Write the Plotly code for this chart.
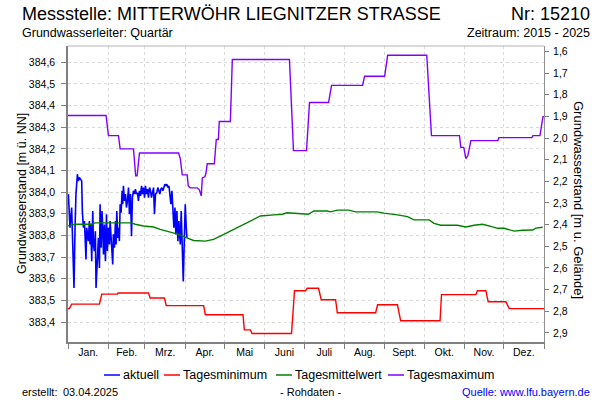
import plotly.graph_objects as go

# ---------------- data ----------------
months = ["Jan.", "Feb.", "Mrz.", "Apr.", "Mai", "Juni", "Juli", "Aug.", "Sept.", "Okt.", "Nov.", "Dez."]
month_start = [0, 31, 59, 90, 120, 151, 181, 212, 243, 273, 304, 334, 365]
month_mid = [15.5, 45, 74.5, 105, 135.5, 166, 196.5, 227.5, 258, 288.5, 319, 349.5]
left_ticks = [383.4, 383.5, 383.6, 383.7, 383.8, 383.9, 384.0, 384.1, 384.2, 384.3, 384.4, 384.5, 384.6]
right_ticks = [1.6, 1.7, 1.8, 1.9, 2.0, 2.1, 2.2, 2.3, 2.4, 2.5, 2.6, 2.7, 2.8, 2.9]
ground_level = 386.25  # m ü. NN

# aktuell (2025, day of year / level m ü. NN)
akt_day = [0.3, 1.5, 2.8, 3.6, 4.6, 5.4, 6.1, 7.2, 7.9, 8.7, 9.7, 10.5, 11.0, 11.8, 12.6, 13.1, 13.8, 14.3,
           15.6, 16.4, 16.9, 17.4, 18.2, 19.0, 19.5, 20.2, 21.0, 21.5, 22.5, 23.3, 24.1, 24.6, 25.4, 26.1,
           26.6, 27.2, 27.9, 28.7, 29.5, 30.2, 31.0, 31.8, 32.3, 33.6, 34.3, 34.8, 35.6, 36.4, 36.9, 37.4,
           38.2, 38.9, 39.4, 40.0, 40.7, 41.5, 42.0, 42.5, 43.3, 44.1, 44.8, 45.6, 46.4, 47.1, 47.9, 48.7,
           49.4, 50.2, 51.0, 51.7, 52.5, 53.3, 54.0, 54.8, 55.6, 56.4, 57.1, 57.9, 58.7, 59.4, 60.2, 61.0,
           61.7, 62.5, 63.3, 64.0, 64.8, 65.6, 66.3, 67.1, 68.1, 68.9, 69.7, 70.4, 71.2, 72.0, 72.7, 73.5,
           74.3, 75.1, 75.8, 76.6, 77.4, 78.1, 78.9, 79.7, 80.4, 81.2, 82.0, 82.7, 83.5, 84.3, 85.0, 86.1,
           86.8, 87.6, 88.4, 89.1, 89.9, 90.7, 91.2]
akt_val = [383.991, 383.836, 383.929, 383.712, 383.557, 383.836, 383.991, 384.083, 384.052, 384.068, 384.060,
           384.052, 383.913, 383.836, 383.867, 383.743, 383.689, 383.836, 383.774, 383.867, 383.758, 383.851,
           383.681, 383.913, 383.758, 383.728, 383.820, 383.557, 383.681, 383.789, 383.650, 383.944, 383.743,
           383.913, 383.836, 383.712, 383.851, 383.681, 383.898, 383.728, 383.836, 383.758, 383.867, 383.712,
           383.666, 383.805, 383.743, 383.867, 383.758, 383.913, 383.789, 383.836, 383.774, 383.944, 383.905,
           384.006, 383.944, 384.029, 383.960, 383.991, 383.929, 383.960, 384.021, 383.898, 383.991, 383.797,
           383.975, 384.006, 383.991, 384.014, 383.991, 383.998, 383.960, 384.006, 383.983, 384.029, 383.991,
           384.021, 383.975, 384.029, 383.991, 384.014, 383.975, 384.021, 384.006, 383.975, 383.998, 384.021,
           383.898, 383.991, 383.998, 384.021, 384.006, 383.991, 384.014, 384.021, 384.006, 384.029, 384.037,
           384.029, 384.037, 384.021, 384.029, 383.991, 383.944, 384.006, 383.913, 383.836, 383.929, 383.805,
           383.913, 383.774, 383.867, 383.758, 383.913, 383.681, 383.588, 383.758, 383.944, 383.836, 383.789]

# Tagesminimum 2015-2025
min_day = [0, 1.0, 2.8, 24.1, 25.9, 37.9, 38.4, 61.7, 63.0, 74.0, 75.3, 104.0, 105.3, 134.2, 135.2, 139.8,
           141.2, 171.4, 173.7, 182.1, 183.4, 192.1, 194.2, 205.2, 206.5, 235.9, 237.4, 252.6, 255.1, 285.3,
           286.4, 312.7, 314.0, 320.4, 322.2, 335.8, 338.3, 365]
min_val = [383.462, 383.462, 383.483, 383.483, 383.529, 383.529, 383.534, 383.534, 383.511, 383.511, 383.476,
           383.476, 383.434, 383.434, 383.364, 383.364, 383.347, 383.347, 383.545, 383.545, 383.556, 383.556,
           383.503, 383.503, 383.443, 383.443, 383.480, 383.480, 383.406, 383.406, 383.527, 383.527, 383.545,
           383.545, 383.494, 383.494, 383.462, 383.462]

# Tagesmittelwert 2015-2025
mean_day = [0, 5.4, 18.2, 20.7, 48.9, 51.5, 57.9, 65.5, 70.7, 78.4, 84.8, 91.2, 96.3, 105.3, 111.6, 116.8,
            121.9, 129.6, 137.3, 142.4, 147.5, 157.8, 164.2, 168.1, 175.7, 184.4, 188.5, 198.8, 201.3, 206.5,
            215.4, 220.5, 237.2, 242.3, 252.6, 260.3, 265.3, 276.9, 280.7, 285.8, 298.7, 305.1, 311.4, 317.9,
            325.6, 329.4, 334.5, 342.2, 348.6, 356.3, 358.8, 364.0]
mean_val = [383.844, 383.852, 383.852, 383.858, 383.858, 383.852, 383.844, 383.839, 383.828, 383.816, 383.805,
            383.789, 383.777, 383.774, 383.782, 383.797, 383.813, 383.836, 383.859, 383.875, 383.890, 383.895,
            383.898, 383.905, 383.901, 383.898, 383.913, 383.913, 383.909, 383.917, 383.917, 383.909, 383.909,
            383.903, 383.895, 383.887, 383.872, 383.872, 383.856, 383.847, 383.847, 383.839, 383.847, 383.852,
            383.840, 383.833, 383.833, 383.820, 383.824, 383.825, 383.834, 383.838]

# Tagesmaximum 2015-2025
max_day = [0, 29.2, 31.0, 38.7, 40.0, 50.2, 51.9, 53.0, 54.8, 84.8, 86.1, 87.6, 91.4, 92.2, 93.7, 99.1, 100.7,
           102.2, 103.0, 104.9, 105.7, 106.8, 112.2, 113.7, 115.3, 116.0, 124.5, 126.0, 169.8, 172.9, 182.9,
           185.2, 199.8, 202.1, 225.9, 227.4, 242.8, 245.1, 275.1, 278.7, 300.2, 301.2, 303.5, 305.1, 306.6,
           308.9, 329.6, 330.4, 355.7, 356.5, 361.9, 364.2, 365]
max_val = [384.354, 384.354, 384.261, 384.261, 384.200, 384.200, 384.076, 384.076, 384.181, 384.181, 384.155,
           384.080, 384.080, 384.029, 384.020, 384.020, 384.011, 383.983, 384.066, 384.071, 384.085, 384.131,
           384.131, 384.243, 384.243, 384.326, 384.326, 384.613, 384.613, 384.192, 384.192, 384.414, 384.414,
           384.493, 384.493, 384.535, 384.535, 384.632, 384.632, 384.261, 384.261, 384.207, 384.207, 384.155,
           384.168, 384.238, 384.238, 384.252, 384.252, 384.261, 384.261, 384.349, 384.349]

series_names = ["aktuell", "Tagesminimum", "Tagesmittelwert", "Tagesmaximum"]
series_colors = ["#0000FF", "#FF0000", "#008000", "#8000FF"]

# ---------------- layout geometry ----------------
W, H = 600, 400
L, R, T, B = 68, 56, 46, 58
PW, PH = W - L - R, H - T - B
FONT = "Liberation Sans, Arial, sans-serif"
GRID = "#d9d9d9"
AX = "#808080"


def fx(px):
    return (px - L) / PW


def fy(py):
    return (H - B - py) / PH


fig = go.Figure()
fig.add_trace(go.Scatter(x=akt_day, y=akt_val, mode="lines", name=series_names[0],
                         line=dict(color=series_colors[0], width=1.6)))
fig.add_trace(go.Scatter(x=min_day, y=min_val, mode="lines", name=series_names[1],
                         line=dict(color=series_colors[1], width=1.4)))
fig.add_trace(go.Scatter(x=mean_day, y=mean_val, mode="lines", name=series_names[2],
                         line=dict(color=series_colors[2], width=1.4)))
fig.add_trace(go.Scatter(x=max_day, y=max_val, mode="lines", name=series_names[3],
                         line=dict(color=series_colors[3], width=1.4)))
# carrier for the right-hand depth axis
fig.add_trace(go.Scatter(x=[None], y=[None], yaxis="y2", mode="lines", showlegend=False, hoverinfo="skip"))

y_top, y_bot = 384.675, 383.308

annotations = []


def ann(text, px, py, xanchor="left", size=11, color="black", angle=0):
    annotations.append(dict(text=text, x=fx(px), y=fy(py), xref="paper", yref="paper",
                            xanchor=xanchor, yanchor="middle", showarrow=False, textangle=angle,
                            font=dict(family=FONT, size=size, color=color)))


ann("Messstelle: MITTERWÖHR LIEGNITZER STRASSE", 20, 14, size=18)
ann("Nr: 15210", 592, 14, xanchor="right", size=18)
ann("Grundwasserleiter: Quartär", 20, 33, size=12.5)
ann("Zeitraum: 2015 - 2025", 592, 33, xanchor="right", size=12.5)
ann("Grundwasserstand [m ü. NN]", 22, 194, xanchor="center", size=12.5, angle=-90)
ann("Grundwasserstand [m u. Gelände]", 579, 200, xanchor="center", size=13, angle=90)
ann("erstellt:", 20, 392, size=11)
ann("03.04.2025", 61, 392, size=11)
ann("- Rohdaten -", 310, 392, xanchor="center", size=11)
ann("Quelle: www.lfu.bayern.de", 592, 392, xanchor="right", size=11, color="#0000FF")

legend_x = [(104, 120), (164, 180), (276, 292), (388, 404)]
shapes = [dict(type="line", xref="paper", yref="paper", x0=0, x1=1, y0=1, y1=1,
               line=dict(color="#b4b4b4", width=1))]
for (a, b), name, col in zip(legend_x, series_names, series_colors):
    shapes.append(dict(type="line", xref="paper", yref="paper", x0=fx(a), x1=fx(b), y0=fy(375), y1=fy(375),
                       line=dict(color=col, width=1.5)))
    ann(name, b + 1, 375, size=12.5)

fig.update_layout(
    width=W, height=H,
    margin=dict(l=L, r=R, t=T, b=B, pad=0),
    paper_bgcolor="white", plot_bgcolor="white",
    separators=",.",
    showlegend=False,
    font=dict(family=FONT, size=11, color="black"),
    xaxis=dict(range=[0, 365], tickmode="array", tickvals=month_mid, ticktext=months, ticks="",
               showgrid=False, zeroline=False, showline=True, linecolor=AX, linewidth=1.5,
               tickfont=dict(size=10.5),
               minor=dict(tickmode="array", tickvals=month_start, ticks="outside", ticklen=5,
                          tickcolor=AX, tickwidth=1, showgrid=True, gridcolor=GRID,
                          griddash="3px,3px", gridwidth=1)),
    yaxis=dict(range=[y_bot, y_top], tickmode="array", tickvals=left_ticks, tickformat=".1f",
               ticks="outside", ticklen=5, tickcolor=AX, showgrid=True, gridcolor=GRID,
               griddash="3px,3px", zeroline=False, showline=True, linecolor=AX, linewidth=1.5,
               tickfont=dict(size=10.5), ticklabelstandoff=4),
    yaxis2=dict(range=[ground_level - y_bot, ground_level - y_top], overlaying="y", side="right",
                tickmode="array", tickvals=right_ticks, tickformat=".1f", ticks="outside", ticklen=4,
                tickcolor=AX, showgrid=False, zeroline=False, showline=True, linecolor="#909090",
                linewidth=1, tickfont=dict(size=10.5), ticklabelstandoff=2),
    annotations=annotations,
    shapes=shapes,
)

fig.write_html("out.html")
